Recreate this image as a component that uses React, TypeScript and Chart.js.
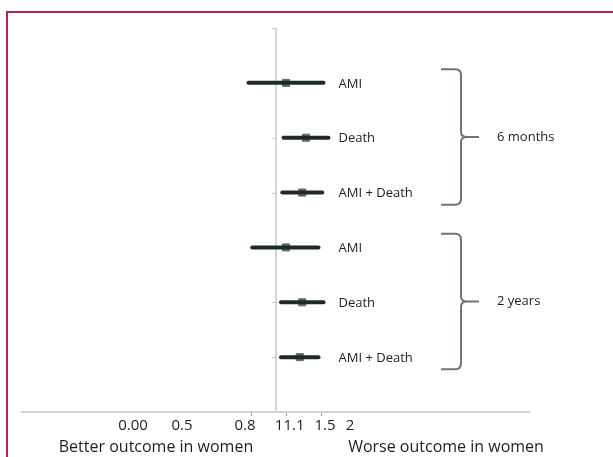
import React, { useEffect, useRef } from 'react';
import { Chart, registerables } from 'chart.js';
Chart.register(...registerables);

// ---- data ----
const OUTCOMES = ['AMI', 'Death', 'AMI + Death', 'AMI', 'Death', 'AMI + Death'];
const ESTIMATES = [1.08, 1.24, 1.21, 1.08, 1.21, 1.19];
const LOWER = [0.78, 1.06, 1.05, 0.81, 1.04, 1.04];
const UPPER = [1.38, 1.42, 1.37, 1.34, 1.38, 1.34];
const GROUPS = ['6 months', '2 years'];
const GROUP_FIRST = [0, 3];
const GROUP_LAST = [2, 5];
const TICK_LABELS = ['0.00', '0.5', '0.8', '1', '1.1', '1.5', '2'];
const TICK_VALUES = [-0.144, 0.248, 0.752, 1.024, 1.144, 1.392, 1.592];
const MARK_VALUES = [0.8, 1.08, 1.36];
const SIDE_LABELS = ['Better outcome in women', 'Worse outcome in women'];
const SIDE_LABEL_AT = [0.04, 2.36];

const FONT = "'Open Sans', 'DejaVu Sans', sans-serif";
const LABEL_X = 1.5;
const BRACE_X = 2.48;

const overlay = {
  id: 'overlay',
  beforeDatasetsDraw(chart: any) {
    const { ctx, scales } = chart;
    const x = scales.x, y = scales.y;
    const px = x.getPixelForValue(1);
    ctx.save();
    ctx.strokeStyle = '#c9cbcb';
    ctx.lineWidth = 1.5;
    ctx.beginPath();
    ctx.moveTo(px, y.top);
    ctx.lineTo(px, y.bottom);
    ctx.stroke();
    ctx.lineWidth = 1;
    for (let r = 0; r <= 6; r++) {
      const py = Math.round(y.getPixelForValue(r)) + 0.5;
      ctx.beginPath();
      ctx.moveTo(px - 4, py);
      ctx.lineTo(px, py);
      ctx.stroke();
    }
    ctx.restore();
  },
  afterDraw(chart: any) {
    const { ctx, scales } = chart;
    const x = scales.x, y = scales.y;
    ctx.save();
    ctx.fillStyle = '#1e1e1e';
    ctx.textBaseline = 'middle';
    ctx.font = `13px ${FONT}`;
    ctx.textAlign = 'left';
    OUTCOMES.forEach((t, i) => {
      ctx.fillText(t, x.getPixelForValue(LABEL_X), y.getPixelForValue(i + 1) + 1);
    });
    // braces
    const bx = x.getPixelForValue(BRACE_X);
    ctx.strokeStyle = '#6e7577';
    ctx.lineWidth = 2;
    GROUPS.forEach((g, gi) => {
      const top = y.getPixelForValue(GROUP_FIRST[gi] + 1 - 0.25);
      const bot = y.getPixelForValue(GROUP_LAST[gi] + 1 + 0.22);
      const mid = (top + bot) / 2;
      ctx.beginPath();
      ctx.moveTo(bx - 20, top);
      ctx.lineTo(bx - 6, top);
      ctx.quadraticCurveTo(bx, top, bx, top + 6);
      ctx.lineTo(bx, mid - 5);
      ctx.quadraticCurveTo(bx, mid, bx + 6, mid);
      ctx.lineTo(bx + 18, mid);
      ctx.moveTo(bx + 6, mid);
      ctx.quadraticCurveTo(bx, mid, bx, mid + 5);
      ctx.lineTo(bx, bot - 6);
      ctx.quadraticCurveTo(bx, bot, bx - 6, bot);
      ctx.lineTo(bx - 20, bot);
      ctx.stroke();
      ctx.fillText(g, bx + 36, mid);
    });
    // side labels
    ctx.font = `16px ${FONT}`;
    ctx.textAlign = 'center';
    SIDE_LABELS.forEach((t, i) => {
      ctx.fillText(t, x.getPixelForValue(SIDE_LABEL_AT[i]), 447);
    });
    ctx.restore();
  },
};

export default function App() {
  const ref = useRef<HTMLCanvasElement>(null);
  useEffect(() => {
    if (!ref.current) return;
    const datasets: any[] = OUTCOMES.map((_, i) => ({
      data: [
        { x: LOWER[i], y: i + 1 },
        { x: UPPER[i], y: i + 1 },
      ],
      showLine: true,
      borderColor: '#1f292b',
      borderWidth: 4,
      borderCapStyle: 'round',
      pointRadius: 0,
    }));
    datasets.push({
      data: ESTIMATES.map((v, i) => ({ x: v, y: i + 1 })),
      pointStyle: 'rect',
      pointRadius: 5,
      backgroundColor: '#606a6d',
      borderColor: '#606a6d',
      borderWidth: 1,
    });
    const chart = new Chart(ref.current, {
      type: 'scatter',
      data: { datasets },
      plugins: [overlay],
      options: {
        animation: false,
        responsive: false,
        layout: { padding: { left: 22, right: 84, top: 28, bottom: 21 } },
        plugins: { legend: { display: false }, tooltip: { enabled: false } },
        scales: {
          x: {
            type: 'linear',
            min: -1.032,
            max: 3.024,
            afterBuildTicks: (scale: any) => {
              scale.ticks = [...TICK_VALUES, ...MARK_VALUES].sort((a, b) => a - b).map((v) => ({ value: v }));
            },
            ticks: {
              autoSkip: false,
              maxRotation: 0,
              padding: 1,
              color: '#1e1e1e',
              font: { family: FONT, size: 15 },
              callback: (v: any) => {
                const i = TICK_VALUES.indexOf(v);
                return i >= 0 ? TICK_LABELS[i] : '';
              },
            },
            grid: {
              drawOnChartArea: false,
              drawTicks: true,
              tickLength: 4,
              color: (c: any) => (c.tick && MARK_VALUES.includes(c.tick.value) ? '#9a9d9d' : 'rgba(0,0,0,0)'),
            },
            border: { color: '#d2d4d4', width: 2 },
          },
          y: {
            type: 'linear',
            display: false,
            min: 0,
            max: 7,
            reverse: true,
          },
        },
      },
    });
    return () => chart.destroy();
  }, []);
  return (
    <div style={{ position: 'fixed', left: 0, top: 0, width: 613, height: 457, background: '#fff', overflow: 'hidden' }}>
      <div
        style={{
          position: 'absolute',
          left: 6,
          top: 11,
          width: 700,
          height: 600,
          border: '2px solid #b2244a',
          boxSizing: 'border-box',
        }}
      />
      <canvas ref={ref} width={613} height={457} style={{ position: 'absolute', left: 0, top: 0 }} />
    </div>
  );
}
